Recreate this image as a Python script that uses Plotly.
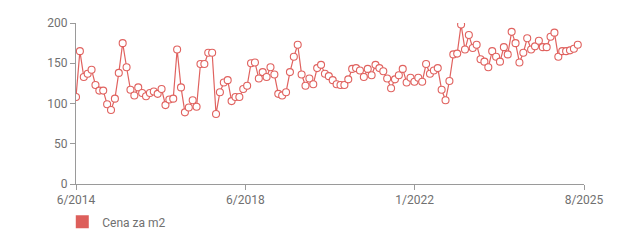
import plotly.graph_objects as go

series_name = "Cena za m2"
values = [
    108, 165, 133, 137, 142, 123, 116, 116, 99, 92,
    106, 138, 175, 145, 117, 110, 120, 113, 109, 113,
    115, 112, 118, 98, 105, 106, 167, 120, 89, 95,
    104, 96, 149, 149, 163, 163, 87, 114, 126, 129,
    103, 108, 108, 118, 122, 150, 151, 131, 139, 133,
    145, 136, 112, 110, 114, 139, 158, 173, 136, 122,
    131, 124, 144, 148, 137, 134, 129, 124, 123, 123,
    130, 143, 144, 141, 133, 143, 135, 148, 144, 140,
    131, 119, 130, 135, 143, 126, 132, 127, 132, 127,
    149, 137, 141, 144, 117, 104, 128, 161, 162, 198,
    167, 185, 169, 173, 155, 152, 145, 165, 158, 152,
    170, 161, 189, 175, 151, 163, 181, 167, 171, 178,
    170, 170, 183, 188, 158, 165, 165, 166, 168, 173,
]
x_index = list(range(len(values)))
tick_labels = ["6/2014", "6/2018", "1/2022", "8/2025"]
y_ticks = [0, 50, 100, 150, 200]

line_color = "#e0625f"
axis_color = "#9a9a9a"
text_color = "#707070"

x_end = (len(values) - 1) * 1.0124
tick_pos = [x_end * i / 3 for i in range(4)]

fig = go.Figure()
fig.add_trace(go.Scatter(
    x=x_index, y=values, mode="lines+markers",
    line=dict(color=line_color, width=1.2),
    marker=dict(symbol="circle", size=7, color="white",
                line=dict(color=line_color, width=1.1)),
    showlegend=False, name=series_name,
))
fig.add_trace(go.Scatter(
    x=[None], y=[None], mode="markers", name=series_name,
    marker=dict(symbol="square", size=13, color="#dd5f5b"),
))

fig.update_layout(
    width=620, height=251,
    margin=dict(l=76, r=36, t=23, b=67),
    paper_bgcolor="white", plot_bgcolor="white",
    font=dict(family="Roboto, sans-serif", size=12, color=text_color),
    showlegend=True,
    legend=dict(orientation="h", x=-0.027, xanchor="left", y=-0.235, yanchor="middle",
                font=dict(size=12, color=text_color), itemwidth=30),
)
fig.update_xaxes(
    range=[0, x_end], tickvals=tick_pos, ticktext=tick_labels,
    showgrid=False, zeroline=False, showline=True, linecolor=axis_color, linewidth=1,
    ticks="outside", ticklen=5, tickcolor=axis_color,
)
fig.update_yaxes(
    range=[0, 200], tickvals=y_ticks,
    showgrid=False, zeroline=False, showline=True, linecolor=axis_color, linewidth=1,
    ticks="outside", ticklen=5, tickcolor=axis_color,
)

fig.write_html("out.html")
